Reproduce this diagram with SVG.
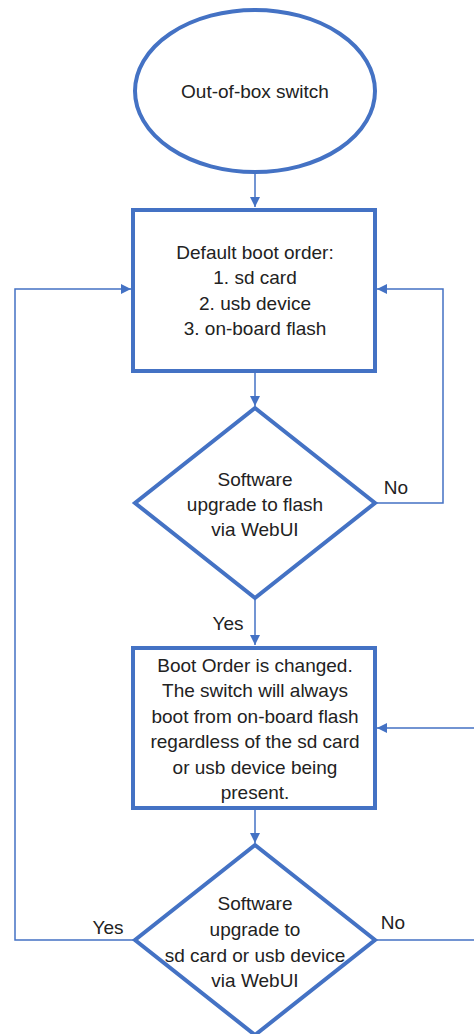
<svg xmlns="http://www.w3.org/2000/svg" width="474" height="1034" viewBox="0 0 474 1034">
<style>
.shape{fill:#fff;stroke:#4472C4;stroke-width:4}
.conn{fill:none;stroke:#4472C4;stroke-width:1.5}
text{font-family:"Liberation Sans",Arial,sans-serif;font-size:19px;fill:#222;text-anchor:middle}
</style>
<defs>
<marker id="arr" viewBox="0 0 10 10" refX="10" refY="5" markerWidth="10" markerHeight="10" markerUnits="userSpaceOnUse" orient="auto">
<path d="M0,0 L10,5 L0,10 z" fill="#4472C4"/>
</marker>
</defs>
<g id="connectors">
<path class="conn" d="M255,173 V207" marker-end="url(#arr)"/>
<path class="conn" d="M255,372 V406" marker-end="url(#arr)"/>
<path class="conn" d="M255,598 V645" marker-end="url(#arr)"/>
<path class="conn" d="M255,809 V843" marker-end="url(#arr)"/>
<path class="conn" d="M375,503 H443 V289 H377" marker-end="url(#arr)"/>
<path class="conn" d="M135,940 H15 V289 H131" marker-end="url(#arr)"/>
<path class="conn" d="M375,940 H480 V728 H377" marker-end="url(#arr)"/>
<text x="396" y="494">No</text>
<text x="228" y="630">Yes</text>
<text x="108" y="934">Yes</text>
<text x="393" y="929">No</text>
</g>
<g id="start">
<ellipse class="shape" cx="255" cy="91" rx="120" ry="81"/>
<text x="255" y="98">Out-of-box switch</text>
</g>
<g id="default-order">
<rect class="shape" x="133" y="210" width="242" height="161"/>
<text x="255" y="259">Default boot order:</text>
<text x="255" y="284">1. sd card</text>
<text x="255" y="310">2. usb device</text>
<text x="255" y="335">3. on-board flash</text>
</g>
<g id="decision1">
<polygon class="shape" points="255,408 375,503 255,598 135,503"/>
<text x="255" y="486">Software</text>
<text x="255" y="511">upgrade to flash</text>
<text x="255" y="536">via WebUI</text>
</g>
<g id="changed">
<rect class="shape" x="133" y="648" width="242" height="160"/>
<text x="255" y="672">Boot Order is changed.</text>
<text x="255" y="697">The switch will always</text>
<text x="255" y="723">boot from on-board flash</text>
<text x="255" y="748">regardless of the sd card</text>
<text x="255" y="774">or usb device being</text>
<text x="255" y="799">present.</text>
</g>
<g id="decision2">
<polygon class="shape" points="255,845 375,940 255,1035 135,940"/>
<text x="255" y="910">Software</text>
<text x="255" y="936">upgrade to</text>
<text x="255" y="962">sd card or usb device</text>
<text x="255" y="987">via WebUI</text>
</g>
</svg>
